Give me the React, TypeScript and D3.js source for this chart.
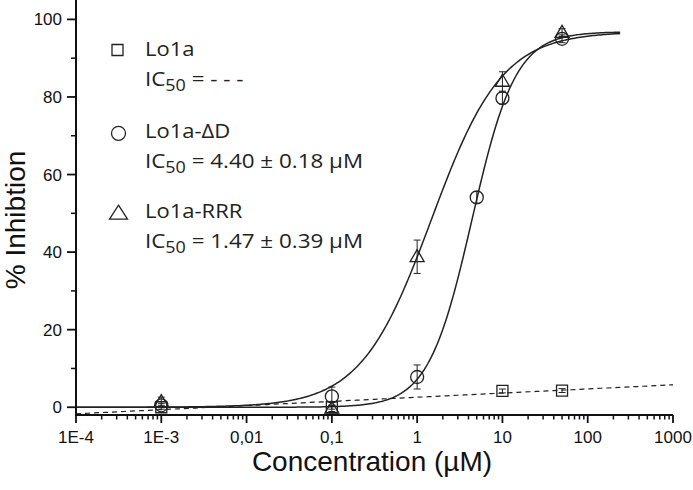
import React from "react";
import * as d3 from "d3";

// ---- data ----
const seriesNames = ["Lo1a", "Lo1a-ΔD", "Lo1a-RRR"];
const icTexts = ["- - -", "4.40 ± 0.18 µM", "1.47 ± 0.39 µM"];

// [concentration µM, % inhibition, error]
const lo1aPoints: [number, number, number][] = [
  [0.001, 0.0, 0.5],
  [0.1, 0.0, 0.5],
  [10, 4.2, 0.5],
  [50, 4.3, 0.5],
];
const deltaDPoints: [number, number, number][] = [
  [0.001, 0.5, 0.5],
  [0.1, 2.8, 2.4],
  [1, 7.8, 3.1],
  [5, 54.1, 1.5],
  [10, 79.7, 1.5],
  [50, 95.0, 1.0],
];
const rrrPoints: [number, number, number][] = [
  [0.001, 1.4, 1.2],
  [0.1, -0.3, 0.8],
  [1, 38.8, 4.3],
  [10, 84.0, 2.5],
  [50, 96.6, 1.0],
];

// fitted parameters (Hill): top, IC50, slope
const deltaDFit = { top: 96.8, ic50: 4.4, n: 1.7 };
const rrrFit = { top: 96.8, ic50: 1.47, n: 1.05 };
// Lo1a: near-linear trend in log concentration
const lo1aFit = { intercept: -1.7, slope: 1.07 }; // value at 1E-4 and per decade

const xTickValues = [1e-4, 1e-3, 1e-2, 1e-1, 1, 10, 100, 1000];
const xTickLabels = ["1E-4", "1E-3", "0,01", "0,1", "1", "10", "100", "1000"];
const yTickValues = [0, 20, 40, 60, 80, 100];
const yMinorTicks = [10, 30, 50, 70, 90];

const W = 693;
const H = 490;

export default function App() {
  const x = d3.scaleLog().domain([1e-4, 1000]).range([76, 673]);
  const y = d3.scaleLinear().domain([-2, 105]).range([415, 0]);

  const hill = (p: { top: number; ic50: number; n: number }) => (c: number) =>
    p.top / (1 + Math.pow(p.ic50 / c, p.n));

  const fitX = d3.range(0, 301).map((i) => Math.pow(10, -4 + (i / 300) * (Math.log10(240) + 4)));
  const line = d3
    .line<[number, number]>()
    .x((d) => x(d[0]))
    .y((d) => y(d[1]))
    .curve(d3.curveLinear);

  const dDPath = line(fitX.map((c) => [c, hill(deltaDFit)(c)] as [number, number]))!;
  const rrrPath = line(fitX.map((c) => [c, hill(rrrFit)(c)] as [number, number]))!;
  const lo1aX = d3.range(0, 101).map((i) => Math.pow(10, -4 + (i / 100) * 7));
  const lo1aPath = line(
    lo1aX.map((c) => [c, lo1aFit.intercept + lo1aFit.slope * (Math.log10(c) + 4)] as [number, number])
  )!;

  const minorX: number[] = [];
  for (let e = -4; e < 3; e++) for (let k = 2; k <= 9; k++) minorX.push(k * Math.pow(10, e));

  const sq = (cx: number, cy: number, s: number) => `M${cx - s / 2},${cy - s / 2}h${s}v${s}h${-s}Z`;
  const tri = (cx: number, cy: number, w: number, h: number) =>
    `M${cx},${cy - h * 0.6}L${cx + w / 2},${cy + h * 0.4}L${cx - w / 2},${cy + h * 0.4}Z`;

  const errBar = (c: number, v: number, e: number, key: string) => {
    const cx = x(c);
    return (
      <g key={key} stroke="#222" strokeWidth={1} fill="none">
        <line x1={cx} x2={cx} y1={y(v - e)} y2={y(v + e)} />
        <line x1={cx - 3.5} x2={cx + 3.5} y1={y(v - e)} y2={y(v - e)} />
        <line x1={cx - 3.5} x2={cx + 3.5} y1={y(v + e)} y2={y(v + e)} />
      </g>
    );
  };

  const tickFont = "'Liberation Sans', Arial, sans-serif";
  const legendFont = "'Open Sans', 'Noto Sans', sans-serif";
  const legendX = 145;
  const legendBase = [55.7, 138.3, 218.3];

  return (
    <svg width={W} height={H} style={{ position: "absolute", left: 0, top: 0, background: "#fff" }}>
      <rect width={W} height={H} fill="#fff" />
      {/* fitted curves */}
      <path d={lo1aPath} fill="none" stroke="#222" strokeWidth={1.2} strokeDasharray="5,4" />
      <path d={dDPath} fill="none" stroke="#222" strokeWidth={1.5} />
      <path d={rrrPath} fill="none" stroke="#222" strokeWidth={1.5} />

      {/* error bars */}
      {lo1aPoints.map((d, i) => errBar(d[0], d[1], d[2], "e1" + i))}
      {deltaDPoints.map((d, i) => errBar(d[0], d[1], d[2], "e2" + i))}
      {rrrPoints.map((d, i) => errBar(d[0], d[1], d[2], "e3" + i))}

      {/* markers */}
      {lo1aPoints.map((d, i) => (
        <path key={"s" + i} d={sq(x(d[0]), y(d[1]), 11)} fill="none" stroke="#222" strokeWidth={1.3} />
      ))}
      {deltaDPoints.map((d, i) => (
        <circle key={"c" + i} cx={x(d[0])} cy={y(d[1])} r={6.5} fill="none" stroke="#222" strokeWidth={1.3} />
      ))}
      {rrrPoints.map((d, i) => (
        <path key={"t" + i} d={tri(x(d[0]), y(d[1]), 14, 12)} fill="none" stroke="#222" strokeWidth={1.3} />
      ))}

      {/* axes */}
      <line x1={76} x2={673} y1={415} y2={415} stroke="#111" strokeWidth={2} />
      <line x1={76} x2={76} y1={416} y2={0} stroke="#111" strokeWidth={2} />
      {xTickValues.map((v, i) => (
        <g key={"xt" + i}>
          <line x1={x(v)} x2={x(v)} y1={415} y2={423} stroke="#111" strokeWidth={1.8} />
          <text x={x(v)} y={443} textAnchor="middle" fontFamily={tickFont} fontSize={17} fill="#111">
            {xTickLabels[i]}
          </text>
        </g>
      ))}
      {minorX.map((v, i) => (
        <line key={"xm" + i} x1={x(v)} x2={x(v)} y1={415} y2={419.5} stroke="#111" strokeWidth={1.5} />
      ))}
      {yTickValues.map((v, i) => (
        <g key={"yt" + i}>
          <line x1={67} x2={76} y1={y(v)} y2={y(v)} stroke="#111" strokeWidth={1.8} />
          <text x={62} y={y(v) + 6} textAnchor="end" fontFamily={tickFont} fontSize={17} fill="#111">
            {v}
          </text>
        </g>
      ))}
      {yMinorTicks.map((v, i) => (
        <line key={"ym" + i} x1={71} x2={76} y1={y(v)} y2={y(v)} stroke="#111" strokeWidth={1.5} />
      ))}

      {/* axis titles */}
      <text x={372} y={471} textAnchor="middle" fontFamily={tickFont} fontSize={28} fill="#111">
        Concentration (µM)
      </text>
      <text
        transform="translate(25,220) rotate(-90)"
        textAnchor="middle"
        fontFamily={tickFont}
        fontSize={28}
        fill="#111"
      >
        % Inhibtion
      </text>

      {/* legend */}
      <path d={sq(117.5, 50, 11)} fill="none" stroke="#222" strokeWidth={1.3} />
      <circle cx={118.5} cy={133.3} r={7} fill="none" stroke="#222" strokeWidth={1.3} />
      <path d={tri(118.5, 213.5, 18, 14)} fill="none" stroke="#222" strokeWidth={1.3} />
      {seriesNames.map((n, i) => (
        <g key={"lg" + i} fontFamily={legendFont} fill="#222">
          <text transform={`translate(${legendX},${legendBase[i]}) scale(1.1,1)`} fontSize={20}>
            {n}
          </text>
          <text transform={`translate(${legendX},${legendBase[i] + 30}) scale(1.12,1)`} fontSize={20}>
            IC
            <tspan fontSize={16} dy={5}>
              50
            </tspan>
            <tspan dy={-5}>{" = " + icTexts[i]}</tspan>
          </text>
        </g>
      ))}
    </svg>
  );
}
